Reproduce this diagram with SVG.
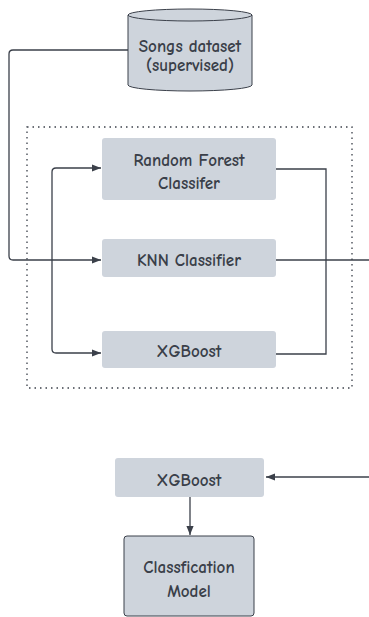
<svg xmlns="http://www.w3.org/2000/svg" width="369" height="617" viewBox="0 0 369 617">
<defs>
<style>
.box{fill:#ced4dc;}
.cyl{fill:#ced4dc;stroke:#3b404a;stroke-width:1;}
.t{font-family:"Comic Neue","Noto Sans","Liberation Sans",sans-serif;font-size:17px;font-weight:bold;fill:#3a3f49;text-anchor:middle;}
.c{fill:none;stroke:#3b404a;stroke-width:1.3;}
.dash{fill:none;stroke:#3b404a;stroke-width:1.3;stroke-dasharray:1.5 4;}
</style>
<marker id="ah" viewBox="0 0 10 10" refX="10" refY="5" markerWidth="9" markerHeight="9" markerUnits="userSpaceOnUse" orient="auto-start-reverse">
<path d="M0,1 L10,5 L0,9 z" fill="#3b404a"/>
</marker>
</defs>
<rect class="dash" x="27" y="127" width="325" height="261"/>
<g id="connectors">
<path class="c" d="M128,50 H13 Q9,50 9,54 V256 Q9,260 13,260 H101" marker-end="url(#ah)"/>
<path class="c" d="M101,168 H56 Q52,168 52,172 V349 Q52,353 56,353 H101" marker-start="url(#ah)" marker-end="url(#ah)"/>
<path class="c" d="M276,169 H326 V354 H276"/>
<path class="c" d="M276,260 H369"/>
<path class="c" d="M369,477 H266" marker-end="url(#ah)"/>
<path class="c" d="M190,497 V535" marker-end="url(#ah)"/>
</g>
<g id="songs-dataset">
<path class="cyl" d="M128,15 V85 A62,6 0 0 0 252,85 V15"/>
<ellipse class="cyl" cx="190" cy="15" rx="62" ry="6"/>
<text class="t" x="190" y="52">Songs dataset</text>
<text class="t" x="190" y="71">(supervised)</text>
</g>
<g id="random-forest">
<rect class="box" x="102" y="138" width="174" height="62" rx="3"/>
<text class="t" x="189" y="166">Random Forest</text>
<text class="t" x="189" y="189">Classifer</text>
</g>
<g id="knn">
<rect class="box" x="102" y="239" width="174" height="38" rx="3"/>
<text class="t" x="189" y="266">KNN Classifier</text>
</g>
<g id="xgboost">
<rect class="box" x="102" y="331" width="174" height="37" rx="3"/>
<text class="t" x="189" y="357">XGBoost</text>
</g>
<g id="xgboost-final">
<rect class="box" x="115" y="458" width="149" height="39" rx="3"/>
<text class="t" x="189" y="486">XGBoost</text>
</g>
<g id="classification-model">
<rect class="box" x="124" y="536" width="130" height="80" rx="3" stroke="#3b404a" stroke-width="1"/>
<text class="t" x="189" y="573">Classfication</text>
<text class="t" x="189" y="597">Model</text>
</g>
</svg>
